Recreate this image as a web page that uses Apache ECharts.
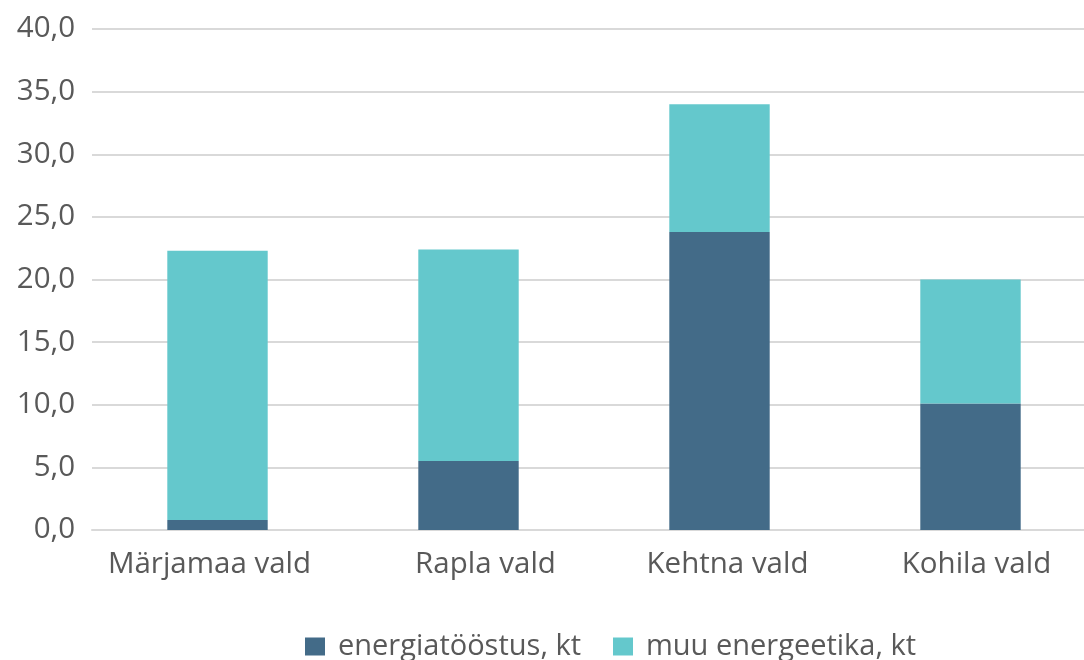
<!DOCTYPE html>
<html><head><meta charset="utf-8">
<script src="https://cdn.jsdelivr.net/npm/echarts@6/dist/echarts.min.js"></script>
<style>html,body{margin:0;padding:0;background:#fff}#c{width:1084px;height:660px}</style>
</head><body><div id="c"></div>
<script>
const categories = ['Märjamaa vald', 'Rapla vald', 'Kehtna vald', 'Kohila vald'];
const energiatoostus = [0.8, 5.5, 23.8, 10.1];
const muuEnergeetika = [21.5, 16.9, 10.2, 9.9];
const seriesNames = ['energiatööstus, kt', 'muu energeetika, kt'];
// horizontal nudges of category labels (style only)
const labelPads = [[0, 16, 0, 0], [0, 0, 0, 34], [0, 0, 0, 16], [0, 0, 0, 12]];
const font = '"Open Sans", Lato, sans-serif';
const rich = {};
labelPads.forEach((p, i) => { rich['c' + i] = { fontFamily: font, fontSize: 29.5, color: '#595959', padding: p }; });
const chart = echarts.init(document.getElementById('c'));
chart.setOption({
  animation: false,
  grid: { left: 92, width: 1004, top: 29, height: 501, containLabel: false, outerBoundsMode: 'none' },
  legend: {
    top: 627, left: 300, itemWidth: 20, itemHeight: 18, itemGap: 32,
    icon: 'rect',
    textStyle: { fontFamily: font, fontSize: 29, color: '#595959', padding: [0, 0, 0, 8] },
    data: seriesNames
  },
  xAxis: {
    type: 'category', data: categories,
    axisLine: { lineStyle: { color: '#d9d9d9', width: 2 } },
    axisTick: { show: false },
    axisLabel: { fontFamily: font, fontSize: 29.5, color: '#595959', margin: 20, interval: 0,
      formatter: (v, i) => '{c' + i + '|' + v + '}', rich: rich }
  },
  yAxis: {
    type: 'value', min: 0, max: 40, interval: 5,
    axisLine: { show: false }, axisTick: { show: false },
    splitLine: { lineStyle: { color: '#d9d9d9', width: 2 } },
    axisLabel: { fontFamily: font, fontSize: 29.5, color: '#595959', margin: 17,
      formatter: v => v.toFixed(1).replace('.', ',') }
  },
  series: [
    { name: seriesNames[0], type: 'bar', stack: 's', data: energiatoostus, barWidth: '40%',
      itemStyle: { color: '#436b88' } },
    { name: seriesNames[1], type: 'bar', stack: 's', data: muuEnergeetika, barWidth: '40%',
      itemStyle: { color: '#64c8cc' } }
  ]
});
</script></body></html>
